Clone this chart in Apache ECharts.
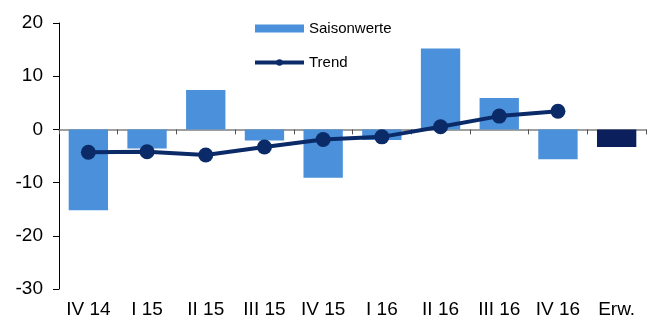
<!DOCTYPE html>
<html><head><meta charset="utf-8">
<script src="https://cdn.jsdelivr.net/npm/echarts@6/dist/echarts.min.js"></script>
<style>html,body{margin:0;padding:0;background:#fff}#c{width:648px;height:320px}</style>
</head><body><div id="c"></div>
<script>
const categories = ['IV 14','I 15','II 15','III 15','IV 15','I 16','II 16','III 16','IV 16','Erw.'];
const saisonwerte = [-15.2,-3.6,7.4,-2.1,-9.1,-2.0,15.2,5.9,-5.6,null];
const erwartung = [null,null,null,null,null,null,null,null,null,-3.3];
const trend = [-4.3,-4.2,-4.8,-3.3,-1.9,-1.4,0.5,2.5,3.4,null];
const yTicks = {min:-30,max:20,interval:10};

const FONT = '"Liberation Sans", Arial, sans-serif';
const chart = echarts.init(document.getElementById('c'), null, {renderer:'canvas'});
chart.setOption({
  animation:false,
  grid:{left:59,right:2,top:23,bottom:31,containLabel:false},
  legend:{
    orient:'vertical', left:253, top:21, padding:0, itemGap:19, itemWidth:49, itemHeight:8,
    textStyle:{fontFamily:FONT,fontSize:15,color:'#000',padding:[0,0,0,0]},
    data:[{name:'Saisonwerte',icon:'rect'},
          {name:'Trend',lineStyle:{width:4,color:'#0B2A68'},itemStyle:{color:'#0B2A68'}}]
  },
  xAxis:[
    {type:'category',data:categories,position:'bottom',
     axisLine:{show:false},axisTick:{show:false},
     axisLabel:{margin:11,fontFamily:FONT,fontSize:19,color:'#000'}},
    {type:'category',data:categories,position:'top',
     axisLine:{onZero:true,onZeroAxisIndex:0,lineStyle:{color:'#808080',width:1.5}},
     axisTick:{show:true,inside:true,length:5,lineStyle:{color:'#555'}},
     axisLabel:{show:false}}
  ],
  yAxis:{type:'value',min:yTicks.min,max:yTicks.max,interval:yTicks.interval,
    axisLine:{show:true,onZero:false,lineStyle:{color:'#000'}},
    axisTick:{show:true,length:6,lineStyle:{color:'#000'}},
    splitLine:{show:false},
    axisLabel:{margin:16,fontFamily:FONT,fontSize:19,color:'#000'}},
  series:[
    {name:'Saisonwerte',type:'bar',data:saisonwerte,stack:'a',barCategoryGap:'33%',
     itemStyle:{color:'#4A90DA'}},
    {name:'Erw',type:'bar',data:erwartung,stack:'a',
     itemStyle:{color:'#0A1F5C'}},
    {name:'Trend',type:'line',data:trend,symbol:'circle',symbolSize:15,
     lineStyle:{color:'#0B2A68',width:4},itemStyle:{color:'#0B2A68'},z:5}
  ]
});
</script></body></html>
